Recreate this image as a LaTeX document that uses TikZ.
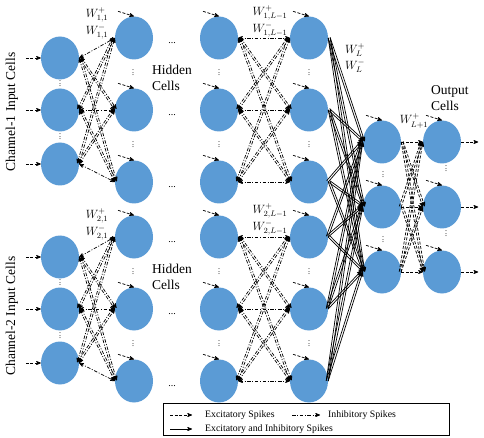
\documentclass[tikz,border=0pt]{standalone}
\usepackage{amsmath}
\usepackage{fontspec}
\setmainfont{Liberation Serif}
\usepackage{tikz}
\usetikzlibrary{arrows}
\usetikzlibrary{calc}
\usetikzlibrary{positioning}
\usetikzlibrary{shapes.geometric}

\definecolor{cellblue}{RGB}{91,155,213}
\newcommand\coldots{\vbox{\baselineskip2.6pt\lineskiplimit0pt\hbox{.}\hbox{.}\hbox{.}}}

\begin{document}
\begin{tikzpicture}[x=1pt,y=-1pt,>=stealth',
    cell/.style={ellipse,fill=cellblue,minimum width=38pt,minimum height=43pt,inner sep=0pt},
    exc/.style={draw,->,line width=0.7pt,dash pattern=on 3pt off 1.6pt},
    inh/.style={draw,line width=0.7pt,dash pattern=on 3.5pt off 1.6pt on 1pt off 1.6pt},
    both/.style={draw,->,line width=0.7pt},
    wlab/.style={font=\fontsize{12}{13}\selectfont,inner sep=0pt},
    txt/.style={font=\fontsize{13.5}{16}\selectfont,align=left,inner sep=0pt},
    leg/.style={font=\fontsize{9.8}{11}\selectfont,anchor=west,inner sep=0pt},
    hdots/.style={font=\fontsize{10}{10}\selectfont,inner sep=0pt},
    vdot/.style={font=\fontsize{8}{8}\selectfont,inner sep=0pt}]

  \useasboundingbox (0,0) rectangle (484,438);

  \foreach \c/\dy in {1/0,2/199} {
    \foreach \k/\y in {1/58,2/110,3/164}
      \node [cell] (I\c_\k) at (60,\y+\dy) {};
    \foreach \k/\y in {1/38,2/110,3/182} {
      \node [cell] (A\c_\k) at (134,\y+\dy) {};
      \node [cell] (B\c_\k) at (219,\y+\dy) {};
      \node [cell] (C\c_\k) at (309,\y+\dy) {};
      \node [hdots] (dots\c_\k) at (172,\y+\dy+5) {...};
    }
    \node [vdot] (Iv\c_1) at (60,84+\dy) {\coldots};
    \node [vdot] (Iv\c_2) at (60,137+\dy) {\coldots};
    \foreach \col/\x in {A/133,B/219,C/309} {
      \node [vdot] (\col v\c_1) at (\x,73+\dy) {\coldots};
      \node [vdot] (\col v\c_2) at (\x,145+\dy) {\coldots};
    }
  }
  \foreach \k/\y in {1/142,2/207,3/272} {
    \node [cell] (L_\k) at (382,\y) {};
    \node [cell] (O_\k) at (442,\y) {};
  }
  \foreach \k/\y in {1/175,2/240} {
    \node [vdot] (Lv_\k) at (383,\y) {\coldots};
    \node [vdot] (Ov_\k) at (446,\y-6) {\coldots};
  }

  % outside spikes
  \foreach \c in {1,2}
    \foreach \k in {1,2,3} {
      \path [exc] ($(I\c_\k.west)+(-15,0)$) -- (I\c_\k.west);
      \foreach \col in {A,B,C}
        \path [exc] ($(\col\c_\k.north)+(-16,-5)$) -- (\col\c_\k.north);
    }
  \foreach \k in {1,2,3} {
    \path [exc] ($(L_\k.north)+(-16,-5)$) -- (L_\k.north);
    \path [exc] ($(O_\k.north)+(-16,-5)$) -- (O_\k.north);
    \path [exc] (O_\k.east) -- ++(17,0);
  }

  % layer to layer
  \foreach \c in {1,2}
    \foreach \i in {1,2,3}
      \foreach \j in {1,2,3} {
        \path [inh,<->] (I\c_\i.east) -- (A\c_\j.west);
        \path [inh,<->] (B\c_\i.east) -- (C\c_\j.west);
        \ifnum\i=\j\else
          \path [inh,<->] ($(I\c_\i.east)!2pt!90:(A\c_\j.west)$) -- ($(A\c_\j.west)!2pt!-90:(I\c_\i.east)$);
          \path [inh,<->] ($(B\c_\i.east)!2pt!90:(C\c_\j.west)$) -- ($(C\c_\j.west)!2pt!-90:(B\c_\i.east)$);
        \fi
        \path [both] (C\c_\i.east) -- (L_\j.west);
        \path [both] ($(C\c_\i.east)!2pt!90:(L_\j.west)$) -- ($(L_\j.west)!2pt!-90:(C\c_\i.east)$);
      }
  \foreach \i in {1,2,3}
    \foreach \j in {1,2,3} {
      \path [exc] (L_\i.east) -- (O_\j.west);
      \ifnum\i=\j\else
        \path [exc] ($(L_\i.east)!2pt!90:(O_\j.west)$) -- ($(O_\j.west)!2pt!-90:(L_\i.east)$);
      \fi
    }

  \node [wlab] (W11p) at (97,15) {$W^+_{1,1}$};
  \node [wlab] (W11m) at (97,32) {$W^-_{1,1}$};
  \node [wlab] (W21p) at (97,216) {$W^+_{2,1}$};
  \node [wlab] (W21m) at (97,233) {$W^-_{2,1}$};
  \node [wlab] (W1Lp) at (270,13) {$W^+_{1,L-1}$};
  \node [wlab] (W1Lm) at (270,30) {$W^-_{1,L-1}$};
  \node [wlab] (W2Lp) at (270,211) {$W^+_{2,L-1}$};
  \node [wlab] (W2Lm) at (270,228) {$W^-_{2,L-1}$};
  \node [wlab] (WLp) at (355,50) {$W^+_{L}$};
  \node [wlab] (WLm) at (355,66) {$W^-_{L}$};
  \node [wlab] (WL1p) at (414,121) {$W^+_{L+1}$};

  \node [txt,anchor=west] (hid1) at (152,78) {Hidden\\Cells};
  \node [txt,anchor=west] (hid2) at (152,277) {Hidden\\Cells};
  \node [txt,anchor=west] (outlab) at (431,98) {Output\\Cells};
  \node [txt,rotate=90] (ch1) at (12,112) {Channel-1 Input Cells};
  \node [txt,rotate=90] (ch2) at (12,316) {Channel-2 Input Cells};

  % legend
  \node [draw,line width=0.6pt,anchor=north west,minimum width=286pt,minimum height=32pt,inner sep=0pt] (legend) at (163,403) {};
  \coordinate (lg1a) at (170,415);
  \coordinate (lg1b) at (192,415);
  \coordinate (lg2a) at (292,415);
  \coordinate (lg2b) at (320,415);
  \coordinate (lg3a) at (170,429);
  \coordinate (lg3b) at (192,429);
  \path [exc] (lg1a) -- (lg1b);
  \path [inh,->] (lg2a) -- (lg2b);
  \path [both] (lg3a) -- (lg3b);
  \node [leg] (lgexc) at (205,415) {Excitatory Spikes};
  \node [leg] (lginh) at (328,415) {Inhibitory Spikes};
  \node [leg] (lgboth) at (205,429) {Excitatory and Inhibitory Spikes};

\end{tikzpicture}
\end{document}
